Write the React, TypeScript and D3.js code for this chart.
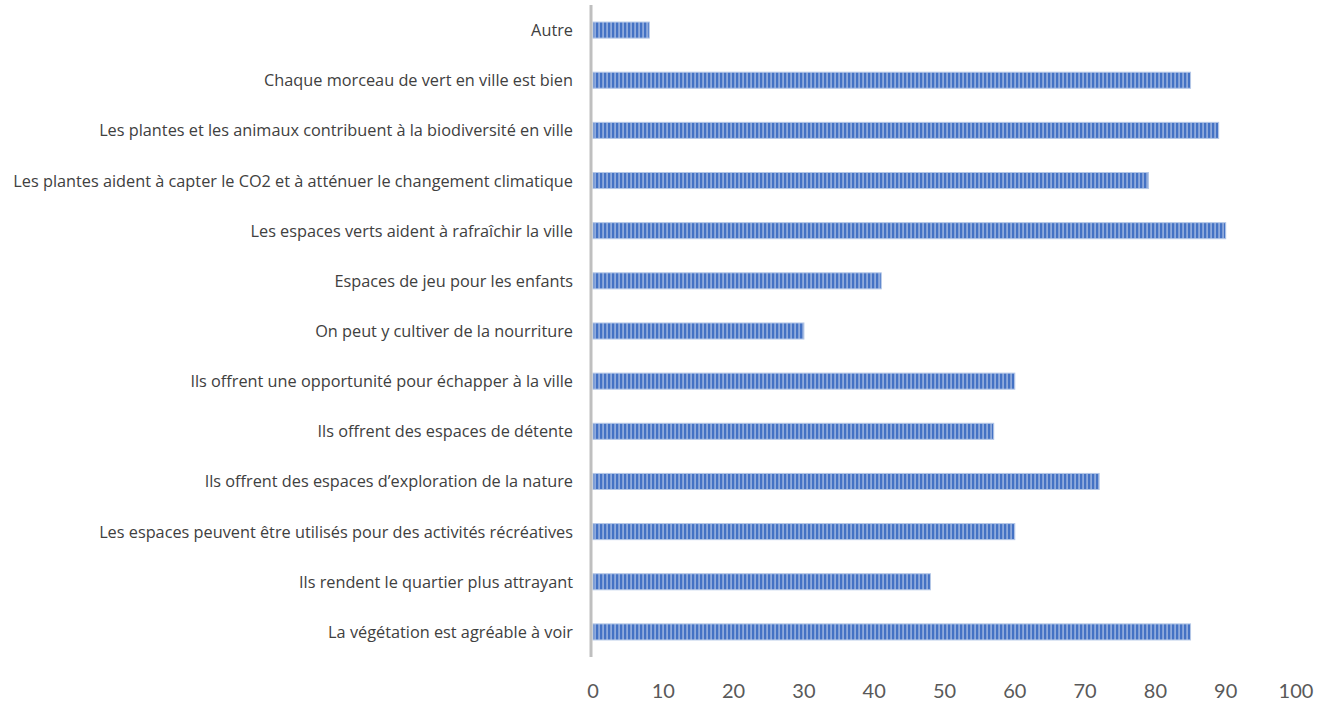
import React from "react";
import * as d3 from "d3";

const categories = [
  "Autre",
  "Chaque morceau de vert en ville est bien",
  "Les plantes et les animaux contribuent à la biodiversité en ville",
  "Les plantes aident à capter le CO2 et à atténuer le changement climatique",
  "Les espaces verts aident à rafraîchir la ville",
  "Espaces de jeu pour les enfants",
  "On peut y cultiver de la nourriture",
  "Ils offrent une opportunité pour échapper à la ville",
  "Ils offrent des espaces de détente",
  "Ils offrent des espaces d’exploration de la nature",
  "Les espaces peuvent être utilisés pour des activités récréatives",
  "Ils rendent le quartier plus attrayant",
  "La végétation est agréable à voir",
];

const values = [8, 85, 89, 79, 90, 41, 30, 60, 57, 72, 60, 48, 85];

const xTicks = [0, 10, 20, 30, 40, 50, 60, 70, 80, 90, 100];

const W = 1319;
const H = 702;
const margin = { top: 5, right: 23, bottom: 45, left: 593 };

const App: React.FC = () => {
  const x = d3
    .scaleLinear()
    .domain([0, 100])
    .range([margin.left, W - margin.right]);

  const y = d3
    .scaleBand()
    .domain(categories)
    .range([margin.top, H - margin.bottom])
    .paddingInner(0.68)
    .paddingOuter(0.34);

  return (
    <svg
      width={W}
      height={H}
      style={{ position: "absolute", left: 0, top: 0, background: "#fff" }}
    >
      <defs>
        <pattern
          id="stripes"
          patternUnits="userSpaceOnUse"
          width={4}
          height={10}
        >
          <rect x={0} y={0} width={4} height={10} fill="#8FAADC" />
          <rect x={0} y={0} width={2.2} height={10} fill="#4472C4" />
        </pattern>
      </defs>

      {/* bars */}
      {categories.map((c, i) => (
        <rect
          key={c}
          x={x(0)}
          y={y(c)!}
          width={x(values[i]) - x(0)}
          height={y.bandwidth()}
          fill="url(#stripes)"
          stroke="#B4C7E7"
          strokeWidth={1}
        />
      ))}

      {/* category labels */}
      {categories.map((c) => (
        <text
          key={c}
          x={573}
          y={y(c)! + y.bandwidth() / 2}
          textAnchor="end"
          dominantBaseline="central"
          fontFamily="'Open Sans', sans-serif"
          fontSize={16.3}
          fill="#404040"
        >
          {c}
        </text>
      ))}

      {/* vertical axis line */}
      <line
        x1={591}
        x2={591}
        y1={margin.top}
        y2={H - margin.bottom}
        stroke="#BFBFBF"
        strokeWidth={3}
      />

      {/* x tick labels */}
      {xTicks.map((t) => (
        <text
          key={t}
          x={x(t)}
          y={690}
          textAnchor="middle"
          dominantBaseline="central"
          fontFamily="Lato, sans-serif"
          fontSize={20}
          fill="#595959"
        >
          {t}
        </text>
      ))}
    </svg>
  );
};

export default App;
